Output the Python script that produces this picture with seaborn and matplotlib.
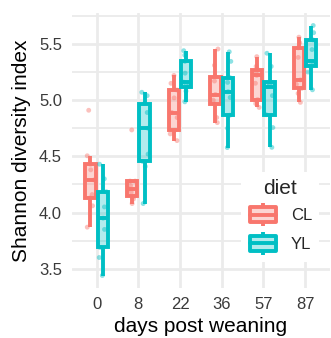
import numpy as np
import pandas as pd
import matplotlib
matplotlib.use("Agg")
import matplotlib.pyplot as plt
import matplotlib.transforms as mtransforms
from matplotlib.ticker import MultipleLocator, FormatStrFormatter
from matplotlib.legend_handler import HandlerBase
from matplotlib.patches import Rectangle, Patch
from matplotlib.lines import Line2D
import seaborn as sns

# ---------------- data ----------------
days = ["0", "8", "22", "36", "57", "87"]
diets = ["CL", "YL"]

cl_day0 = [3.87, 4.06, 4.13, 4.16, 4.29, 4.38, 4.43, 4.505, 4.91]
cl_day8 = [4.08, 4.12, 4.145, 4.18, 4.21, 4.24, 4.28, 4.28, 4.735]
cl_day22 = [4.64, 4.70, 4.73, 4.845, 4.89, 5.02, 5.09, 5.15, 5.22]
cl_day36 = [4.80, 4.845, 4.965, 5.00, 5.05, 5.17, 5.21, 5.31, 5.455]
cl_day57 = [4.935, 4.97, 5.005, 5.15, 5.22, 5.24, 5.268, 5.30, 5.387]
cl_day87 = [4.98, 5.06, 5.105, 5.14, 5.18, 5.38, 5.465, 5.51, 5.56]

yl_day0 = [3.44, 3.60, 3.69, 3.85, 3.95, 4.05, 4.185, 4.30, 4.43]
yl_day8 = [4.08, 4.41, 4.455, 4.52, 4.75, 4.89, 4.97, 5.04, 5.07]
yl_day22 = [4.985, 5.08, 5.12, 5.14, 5.16, 5.24, 5.345, 5.40, 5.44]
yl_day36 = [4.578, 4.75, 4.866, 5.024, 5.075, 5.158, 5.20, 5.345, 5.43]
yl_day57 = [4.58, 4.756, 4.87, 5.04, 5.12, 5.14, 5.158, 5.30, 5.417]
yl_day87 = [5.092, 5.25, 5.30, 5.32, 5.345, 5.45, 5.536, 5.60, 5.664]

cl_groups = [cl_day0, cl_day8, cl_day22, cl_day36, cl_day57, cl_day87]
yl_groups = [yl_day0, yl_day8, yl_day22, yl_day36, yl_day57, yl_day87]

rows = []
for diet, groups in zip(diets, [cl_groups, yl_groups]):
    for day, vals in zip(days, groups):
        for v in vals:
            rows.append({"day": day, "diet": diet, "shannon": v})
df = pd.DataFrame(rows)

# ---------------- style ----------------
sns.set_theme(style="white")
plt.rcParams["font.family"] = ["Liberation Sans", "DejaVu Sans"]

pal = {"CL": "#F8766D", "YL": "#00BFC4"}
grid_col = "#EBEBEB"

W, H = 331, 338
fig = plt.figure(figsize=(W / 100, H / 100), dpi=100)
left, right, top, bottom = 71.7, 330.0, 13.0, 288.0
ax = fig.add_axes([left / W, (H - bottom) / H, (right - left) / W, (bottom - top) / H])
ax.set_facecolor("white")

box_width = 0.6
strip_width = 0.8  # seaborn's fixed dodge width for stripplot
lw = 2.8

for diet in diets:
    sub = df[df["diet"] == diet]
    sns.boxplot(data=sub, x="day", y="shannon", hue="diet", order=days,
                hue_order=diets, palette=pal, saturation=1, dodge=True,
                width=box_width, gap=0.17, linewidth=lw, linecolor=pal[diet],
                showfliers=False, whis=1.5, capprops={"linewidth": 0},
                legend=False, ax=ax)

for p in ax.patches:
    fc = p.get_facecolor()
    p.set_facecolor((fc[0], fc[1], fc[2], 0.3))

np.random.seed(7)
for i, diet in enumerate(diets):
    sub = df[df["diet"] == diet]
    sign = -1 if i == 0 else 1
    corr = -sign * (strip_width - box_width) / 4
    tr = mtransforms.Affine2D().translate(corr, 0) + ax.transData
    sns.stripplot(data=sub, x="day", y="shannon", hue="diet", order=days,
                  hue_order=diets, palette=pal, dodge=True, jitter=0.18,
                  size=3.5, alpha=0.45, linewidth=0, legend=False, ax=ax,
                  transform=tr, zorder=3)

# ---------------- axes ----------------
lo, hi = df["shannon"].min(), df["shannon"].max()
pad = 0.05 * (hi - lo)
ax.set_ylim(lo - pad, hi + pad)
ax.set_xlim(-0.6, len(days) - 0.4)
ax.yaxis.set_major_locator(MultipleLocator(0.5))
ax.yaxis.set_minor_locator(MultipleLocator(0.25))
ax.yaxis.set_major_formatter(FormatStrFormatter("%.1f"))
ax.set_axisbelow(True)
ax.grid(which="major", color=grid_col, linewidth=2.0)
ax.grid(which="minor", axis="y", color=grid_col, linewidth=1.3)
for s in ax.spines.values():
    s.set_visible(False)
ax.tick_params(axis="both", which="both", length=0, labelsize=12,
               labelcolor="#3A3A3A")
ax.tick_params(axis="x", pad=6.5)
ax.tick_params(axis="y", pad=7)
ax.set_xlabel("days post weaning", fontsize=15, color="black", labelpad=3.8)
ax.set_ylabel("Shannon diversity index", fontsize=15, color="black", labelpad=5.5)


# ---------------- legend ----------------
class BoxKey(HandlerBase):
    def create_artists(self, legend, orig_handle, xdescent, ydescent,
                       width, height, fontsize, trans):
        col = orig_handle.get_edgecolor()
        x0, y0 = -xdescent, -ydescent
        w, h = width, height
        xm = x0 + w / 2
        b0, b1 = y0 + 0.17 * h, y0 + 0.83 * h
        arts = [
            Line2D([xm, xm], [y0, b0], color=col, lw=lw, solid_capstyle="butt"),
            Line2D([xm, xm], [b1, y0 + h], color=col, lw=lw, solid_capstyle="butt"),
            Rectangle((x0 + 0.06 * w, b0), 0.88 * w, b1 - b0,
                      facecolor=(col[0], col[1], col[2], 0.3), edgecolor=col,
                      lw=lw, joinstyle="round"),
            Line2D([x0 + 0.06 * w, x0 + 0.94 * w], [y0 + h / 2] * 2, color=col, lw=lw),
        ]
        for a in arts:
            a.set_transform(trans)
        return arts


handles = [Patch(facecolor=pal[d], edgecolor=pal[d]) for d in diets]
leg = ax.legend(handles, diets, title="diet", loc="center",
                bbox_to_anchor=(280 / W, 1 - 217 / H), bbox_transform=fig.transFigure,
                handler_map={Patch: BoxKey()}, fontsize=12, title_fontsize=15,
                handlelength=1.8, handleheight=1.8, labelspacing=0.3,
                handletextpad=0.8, frameon=True, facecolor="white",
                edgecolor="white", framealpha=1, borderpad=0.4)
leg.get_frame().set_linewidth(0)

fig.savefig("out.png", dpi=100, facecolor="white")
